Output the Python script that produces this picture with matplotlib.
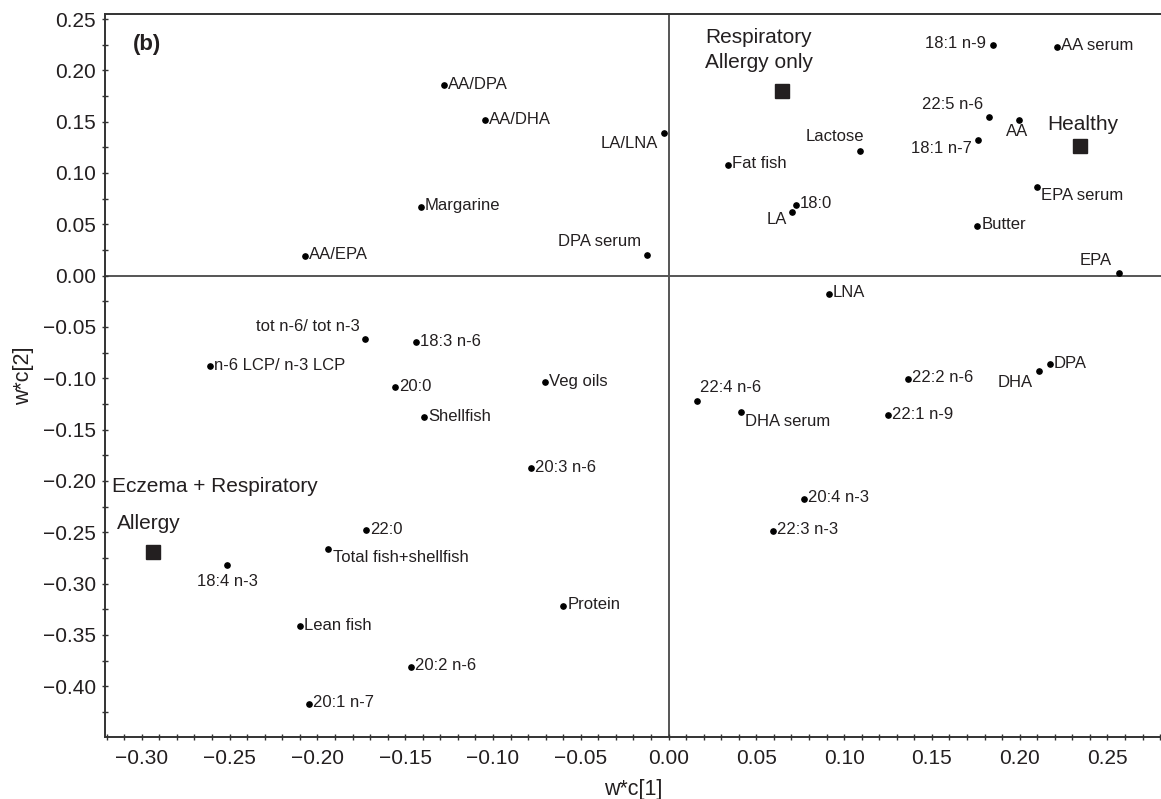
import matplotlib
matplotlib.use("Agg")
import matplotlib.pyplot as plt
from matplotlib.ticker import MultipleLocator, FuncFormatter

plt.rcParams['font.family'] = ['Liberation Sans', 'DejaVu Sans']

# loadings (variables)
var_names = ["AA/EPA", "AA/DPA", "AA/DHA", "LA/LNA", "Margarine", "DPA serum",
             "Fat fish", "18:1 n-9", "AA serum", "22:5 n-6", "AA", "Lactose",
             "18:1 n-7", "EPA serum", "18:0", "LA", "Butter", "EPA", "LNA",
             "tot n-6/ tot n-3", "n-6 LCP/ n-3 LCP", "20:0", "18:3 n-6", "Veg oils",
             "Shellfish", "20:3 n-6", "22:4 n-6", "DHA serum", "22:2 n-6", "DHA",
             "DPA", "22:1 n-9", "20:4 n-3", "22:3 n-3", "22:0",
             "Total fish+shellfish", "18:4 n-3", "Lean fish", "20:1 n-7",
             "Protein", "20:2 n-6"]
var_x = [-0.207, -0.128, -0.1046, -0.0025, -0.141, -0.0122,
         0.0336, 0.185, 0.2212, 0.1826, 0.1999, 0.109,
         0.176, 0.210, 0.0724, 0.0703, 0.1758, 0.2563, 0.0914,
         -0.173, -0.2613, -0.1556, -0.1441, -0.0701,
         -0.1391, -0.0781, 0.0161, 0.0414, 0.1366, 0.211,
         0.217, 0.1252, 0.0771, 0.0597, -0.1722,
         -0.194, -0.2513, -0.210, -0.2045,
         -0.0599, -0.1465]
var_y = [0.0192, 0.1855, 0.1512, 0.1393, 0.067, 0.0205,
         0.1079, 0.2251, 0.2228, 0.1542, 0.1512, 0.1218,
         0.1321, 0.0868, 0.069, 0.0621, 0.0485, 0.0024, -0.0177,
         -0.0618, -0.0885, -0.1088, -0.0647, -0.1037,
         -0.1378, -0.1877, -0.1223, -0.1327, -0.1005, -0.0933,
         -0.0863, -0.1358, -0.2174, -0.2486, -0.2479,
         -0.2663, -0.2821, -0.3414, -0.417,
         -0.3217, -0.3813]

# class scores (groups)
grp_x = [0.0644, 0.2345, -0.2938]
grp_y = [0.1799, 0.1261, -0.2689]

# label placement: (dx px, dy px, ha); default is right of the dot
label_pos = {
    "LA/LNA": (-6, -11, 'right'),
    "DPA serum": (-6, 13, 'right'),
    "18:1 n-9": (-7, 1, 'right'),
    "22:5 n-6": (-6, 13, 'right'),
    "AA": (-2, -11, 'center'),
    "Lactose": (4, 14, 'right'),
    "18:1 n-7": (-6, -8, 'right'),
    "EPA serum": (4, -9, 'left'),
    "LA": (-5, -8, 'right'),
    "EPA": (-7, 13, 'right'),
    "tot n-6/ tot n-3": (-5, 13, 'right'),
    "22:4 n-6": (3, 14, 'left'),
    "DHA serum": (4, -10, 'left'),
    "DHA": (-6, -11, 'right'),
    "18:4 n-3": (0, -16, 'center'),
    "Total fish+shellfish": (5, -9, 'left'),
}

fig = plt.figure(figsize=(11.61, 7.99), dpi=100)
ax = fig.add_axes([0.0904, 0.0776, 0.9096, 0.905])

ax.axhline(0, color='#555555', lw=1.4, zorder=1)
ax.axvline(0, color='#555555', lw=1.4, zorder=1)

ax.plot(var_x, var_y, 'o', color='black', ms=3.8, zorder=3)
ax.plot(grp_x, grp_y, 's', color='#231f20', ms=9.5, zorder=3)

for name, x, y in zip(var_names, var_x, var_y):
    dx, dy, ha = label_pos.get(name, (4, 1, 'left'))
    ax.annotate(name, (x, y), xytext=(dx, dy), textcoords='offset pixels',
                ha=ha, va='center', fontsize=12, color='#231f20')

# group labels
ax.annotate("Respiratory\nAllergy only", (grp_x[0], grp_y[0]), xytext=(-23, 41),
            textcoords='offset pixels', ha='center', va='center',
            fontsize=15, linespacing=1.45, color='#231f20')
ax.annotate("Healthy", (grp_x[1], grp_y[1]), xytext=(3, 22),
            textcoords='offset pixels', ha='center', va='center',
            fontsize=15, color='#231f20')
ax.annotate("Eczema + Respiratory", (grp_x[2], grp_y[2]), xytext=(-41, 65),
            textcoords='offset pixels', ha='left', va='center',
            fontsize=15, color='#231f20')
ax.annotate("Allergy", (grp_x[2], grp_y[2]), xytext=(-36, 28),
            textcoords='offset pixels', ha='left', va='center',
            fontsize=15, color='#231f20')

ax.text(0.0265, 0.958, "(b)", transform=ax.transAxes, fontsize=16,
        fontweight='bold', va='center', ha='left', color='#231f20')

ax.set_xlim(-0.321, 0.2805)
ax.set_ylim(-0.4495, 0.255)
ax.xaxis.set_major_locator(MultipleLocator(0.05))
ax.xaxis.set_minor_locator(MultipleLocator(0.01))
ax.yaxis.set_major_locator(MultipleLocator(0.05))
ax.yaxis.set_minor_locator(MultipleLocator(0.025))
fmt = FuncFormatter(lambda v, p: ("%.2f" % v).replace("-", "\u2212") if abs(v) > 1e-9 else "0.00")
ax.xaxis.set_major_formatter(fmt)
ax.yaxis.set_major_formatter(fmt)
ax.tick_params(which='both', direction='inout', length=5, width=1,
               color='#333333', labelsize=15, labelcolor='#231f20')
ax.tick_params(axis='x', pad=6)
ax.tick_params(axis='y', pad=4)

ax.spines['right'].set_visible(False)
for s in ['left', 'bottom', 'top']:
    ax.spines[s].set_color('#333333')
    ax.spines[s].set_linewidth(1.4)

ax.set_xlabel("w*c[1]", fontsize=15.5, color='#231f20', labelpad=8)
ax.set_ylabel("w*c[2]", fontsize=15.5, color='#231f20', labelpad=6)

fig.savefig("out.png", dpi=100)
